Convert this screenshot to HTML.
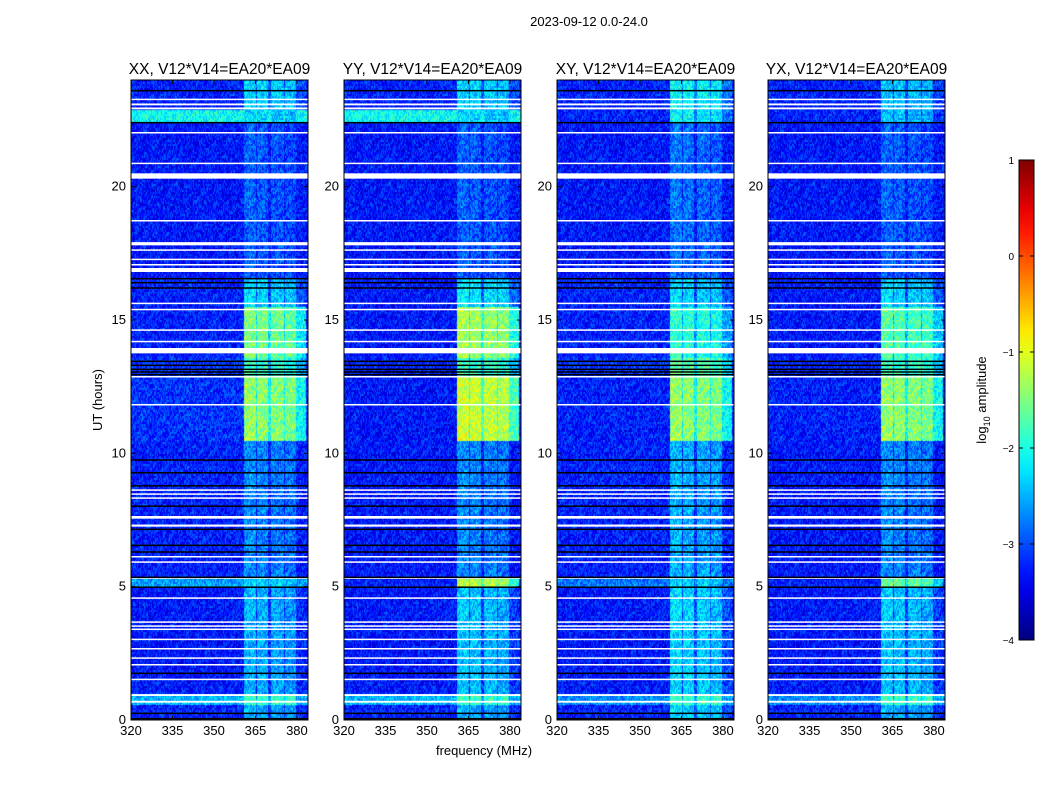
<!DOCTYPE html>
<html><head><meta charset="utf-8"><style>
body{margin:0;background:#fff;width:1050px;height:800px;position:relative;overflow:hidden;font-family:"Liberation Sans",sans-serif;}
.t{position:absolute;white-space:nowrap;color:#000}
canvas{position:absolute;z-index:1}
#ax{z-index:2}
</style></head><body>
<div class="t" style="left:489px;top:14px;width:200px;text-align:center;font-size:13px">2023-09-12 0.0-24.0</div>
<svg id="ax" width="1050" height="800" style="position:absolute;left:0;top:0"></svg>
<script>
// time segments (hours) and log10 amplitude levels
const segStart = [0,0.6,1.0,5.0,5.35,10.5,12.9,13.6,15.5,16.6,22.4,22.9];
const segEnd   = [0.6,1.0,5.0,5.35,10.5,12.9,13.6,15.5,16.6,22.4,22.9,24];
const bandXX = [-2.4,-1.7,-2.4,-2.2,-2.6,-1.3,-1.7,-1.4,-2.2,-2.8,-2.2,-2.2];
const bandYY = [-2.4,-1.7,-2.3,-1.1,-2.6,-1.0,-1.7,-1.2,-2.1,-2.8,-2.2,-2.2];
const bandXY = [-2.2,-1.7,-2.2,-2.2,-2.4,-1.3,-1.5,-1.8,-2.2,-2.7,-2.0,-2.0];
const bandYX = [-2.4,-1.7,-2.3,-1.5,-2.6,-1.3,-1.7,-1.6,-2.2,-2.8,-2.3,-2.3];
const bgXX = [-3.15,-2.4,-3.2,-2.5,-3.15,-3.05,-3.05,-3.15,-3.15,-3.2,-2.0,-3.15];
const bgYY = [-3.15,-2.4,-3.2,-3.15,-3.2,-3.2,-3.15,-3.2,-3.2,-3.2,-2.0,-3.15];
const bgXY = [-3.15,-2.6,-3.2,-2.7,-3.15,-3.15,-3.05,-3.15,-3.15,-3.2,-3.15,-3.15];
const bgYX = [-3.15,-2.6,-3.2,-3.15,-3.2,-3.15,-3.15,-3.2,-3.2,-3.2,-3.15,-3.15];
// sub-bands in MHz
const subLo = [360.5,365.5,370.5,375.5];
const subHi = [365.0,369.5,375.0,379.5];
// flagged (white) and black rows, hours
const whiteLo = [0.65,0.9,1.5,2.05,2.3,2.65,3.0,3.38,3.5,3.65,4.55,5.3,5.9,6.1,7.25,7.55,8.3,8.45,8.6,11.8,12.85,13.75,14.17,14.6,15.37,15.6,16.8,17.05,17.25,17.6,17.8,18.7,20.3,20.85,22.0,22.9,23.05,23.25];
const whiteHi = [0.72,0.97,1.55,2.1,2.35,2.7,3.05,3.43,3.55,3.7,4.6,5.35,5.95,6.15,7.33,7.65,8.35,8.5,8.65,11.85,12.9,13.95,14.22,14.65,15.42,15.65,16.95,17.1,17.3,17.65,17.92,18.75,20.5,20.9,22.05,22.97,23.12,23.3];
const blackH = [0.05,0.25,1.75,4.98,5.35,6.3,6.55,7.15,8.02,8.78,9.27,9.75,12.95,13.05,13.15,13.3,13.45,16.2,16.4,16.55,22.4,23.6];
const panels = ["XX","YY","XY","YX"];
const xTicks = [320,335,350,365,380];
const yTicks = [0,5,10,15,20];
const cbTicks = [1,0,-1,-2,-3,-4];
const bandSets=[bandXX,bandYY,bandXY,bandYX], bgSets=[bgXX,bgYY,bgXY,bgYX];
const lefts=[131,344,557,768], W=177, TOP=80, H=640, F0=320, F1=384;
function jet(t){t=Math.max(0,Math.min(1,t));
 const r=Math.max(0,Math.min(1,1.5-Math.abs(4*t-3))),g=Math.max(0,Math.min(1,1.5-Math.abs(4*t-2))),b=Math.max(0,Math.min(1,1.5-Math.abs(4*t-1)));
 return [r*255|0,g*255|0,b*255|0];}
function tex(i,j){let h=(i*374761393+j*668265263)>>>0;h=((h^(h>>>13))*1274126177)>>>0;return ((h&1023)/1023-0.5);}
const svg=document.getElementById('ax');const NS="http://www.w3.org/2000/svg";
function el(tag,attrs,p){const e=document.createElementNS(NS,tag);for(const k in attrs)e.setAttribute(k,attrs[k]);(p||svg).appendChild(e);return e;}
panels.forEach((pn,p)=>{
 const L=lefts[p];
 const xs=f=>L+(f-F0)/(F1-F0)*W, ys=h=>TOP+H-h/24*H;
 const cv=document.createElement('canvas');cv.width=W;cv.height=H;cv.style.left=L+'px';cv.style.top=TOP+'px';
 
 
 document.body.appendChild(cv);
 const ctx=cv.getContext('2d');const img=ctx.createImageData(W,H);
 for(let y=0;y<H;y++){const h=(H-y)/H*24;let s=0;for(let k=0;k<segStart.length;k++)if(h>=segStart[k]&&h<segEnd[k])s=k;
  for(let x=0;x<W;x++){const f=F0+x/W*(F1-F0);let v=bgSets[p][s];
   let inb=-1;for(let k=0;k<4;k++)if(f>=subLo[k]&&f<subHi[k])inb=k;
   if(inb>=0)v=bandSets[p][s]-inb*0.05;else if(f>=360.5&&f<383)v=Math.max(v,bandSets[p][s]-0.7);
   v+=tex(x,y>>1)*0.8;
   const c=jet((v+4)/5);const o=(y*W+x)*4;img.data[o]=c[0];img.data[o+1]=c[1];img.data[o+2]=c[2];img.data[o+3]=255;}}
 ctx.putImageData(img,0,0);
 const g=el('g',{});
 whiteLo.forEach((lo,i)=>{const r=el('rect',{x:L,y:ys(whiteHi[i]),width:W,height:Math.max(1.5,ys(lo)-ys(whiteHi[i])),fill:'#fff'},g);
  });
 blackH.forEach(h=>{const r=el('rect',{x:L,y:ys(h)-0.75,width:W,height:1.5,fill:'#000'},g);
  });
 const fr=el('rect',{x:L,y:TOP,width:W,height:H,fill:'none',stroke:'#000','stroke-width':1});
 
 xTicks.forEach(t=>{const x=xs(t);el('line',{x1:x,x2:x,y1:TOP+H,y2:TOP+H-4,stroke:'#000'});el('line',{x1:x,x2:x,y1:TOP,y2:TOP+4,stroke:'#000'});
  const tx=el('text',{x:x,y:TOP+H+15,'text-anchor':'middle','font-size':13,'font-family':'Liberation Sans'});tx.textContent=t;
  });
 yTicks.forEach(t=>{const y=ys(t);el('line',{x1:L,x2:L+4,y1:y,y2:y,stroke:'#000'});el('line',{x1:L+W,x2:L+W-4,y1:y,y2:y,stroke:'#000'});
  const tx=el('text',{x:L-5,y:y+4,'text-anchor':'end','font-size':13,'font-family':'Liberation Sans'});tx.textContent=t;
  });
 const ti=el('text',{x:L+W/2,y:74,'text-anchor':'middle','font-size':15.5,'font-family':'Liberation Sans'});ti.textContent=pn+', V12*V14=EA20*EA09';
 
});
// axis titles
let a=el('text',{x:484,y:755,'text-anchor':'middle','font-size':13,'font-family':'Liberation Sans'});a.textContent='frequency (MHz)';

a=el('text',{x:102,y:400,'text-anchor':'middle','font-size':13,'font-family':'Liberation Sans',transform:'rotate(-90 102 400)'});a.textContent='UT (hours)';

// colorbar
const cbL=1019,cbT=160,cbW=15,cbH=480;
const defs=el('defs',{});const lg=el('linearGradient',{id:'jg',x1:0,y1:1,x2:0,y2:0},defs);
for(let i=0;i<=20;i++){const c=jet(i/20);el('stop',{offset:i/20,'stop-color':'rgb('+c.join(',')+')'},lg);}
const cb=el('rect',{x:cbL,y:cbT,width:cbW,height:cbH,fill:'url(#jg)',stroke:'#000'});

cbTicks.forEach(t=>{const y=cbT+(1-t)/5*cbH;el('line',{x1:cbL,x2:cbL+4,y1:y,y2:y,stroke:'#000'});el('line',{x1:cbL+cbW,x2:cbL+cbW-4,y1:y,y2:y,stroke:'#000'});
 const tx=el('text',{x:cbL-5,y:y+4,'text-anchor':'end','font-size':10,'font-family':'Liberation Sans'});tx.textContent=t<0?'\u2212'+(-t):t;
 });
a=el('text',{x:986,y:400,'text-anchor':'middle','font-size':13,'font-family':'Liberation Sans',transform:'rotate(-90 986 400)'});
a.innerHTML='log<tspan font-size="9" dy="4">10</tspan><tspan dy="-4"> amplitude</tspan>';


</script>
</body></html>
